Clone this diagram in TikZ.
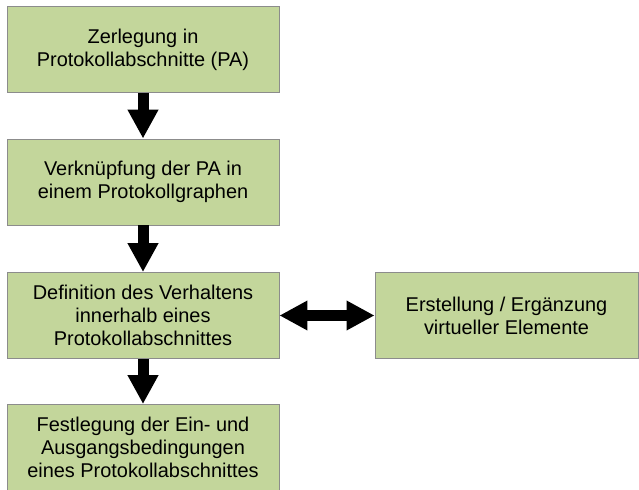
\documentclass[tikz,border=0pt]{standalone}
\usepackage{fontspec}
\setmainfont{Liberation Sans}
\usetikzlibrary{arrows.meta}
\definecolor{boxfill}{HTML}{C3D69B}
\definecolor{boxline}{HTML}{8C8C8C}
\begin{document}
\begin{tikzpicture}[x=1bp,y=-1bp,
  stage/.style={draw=boxline, line width=0.9bp, fill=boxfill, align=center,
    minimum width=272bp, minimum height=86bp, inner sep=0pt,
    font=\fontsize{20}{23}\selectfont},
  flow/.style={line width=11bp, -{Triangle[width=29bp,length=29bp]}},
  link/.style={line width=11bp, {Triangle[width=28bp,length=28bp]}-{Triangle[width=28bp,length=28bp]}}]
  \useasboundingbox (0,0) rectangle (639,490);
  \node[stage] (zer) at (143,49.5) {Zerlegung in\\Protokollabschnitte (PA)};
  \node[stage] (ver) at (143,182) {Verknüpfung der PA in\\einem Protokollgraphen};
  \node[stage] (def) at (143,315.5) {Definition des Verhaltens\\innerhalb eines\\Protokollabschnittes};
  \node[stage] (fes) at (143,447.5) {Festlegung der Ein- und\\Ausgangsbedingungen\\eines Protokollabschnittes};
  \node[stage, minimum width=263bp] (ers) at (506.5,315.5) {Erstellung / Ergänzung\\virtueller Elemente};
  \draw[flow] (zer.south) -- (ver.north);
  \draw[flow] (ver.south) -- (def.north);
  \draw[flow] (def.south) -- (fes.north);
  \draw[link] (def.east) -- (ers.west);
\end{tikzpicture}
\end{document}
